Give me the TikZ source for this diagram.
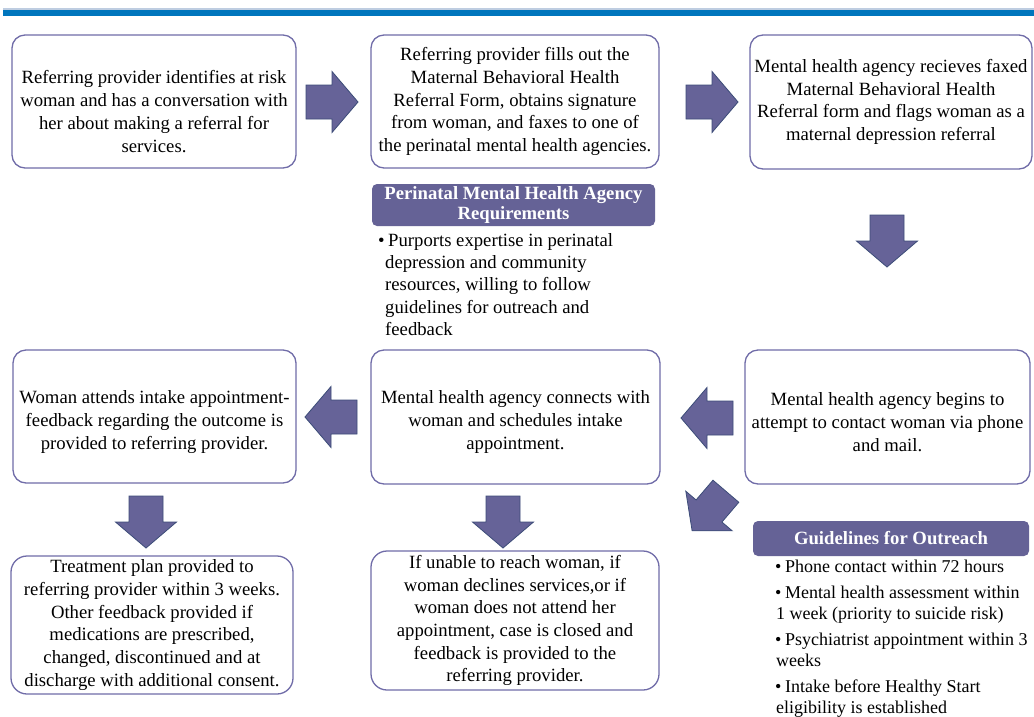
\documentclass[tikz,border=0pt]{standalone}
\usepackage{fontspec}
\setmainfont{Liberation Serif}
\definecolor{boxline}{RGB}{112,108,168}
\definecolor{arrfill}{RGB}{102,99,152}
\definecolor{arrline}{RGB}{60,76,120}
\definecolor{hdrfill}{RGB}{101,98,150}
\definecolor{topbar}{RGB}{0,118,189}
\definecolor{topline}{RGB}{190,205,225}
\tikzset{
  stepbox/.style={draw=boxline, line width=1.3pt, rounded corners=13pt, fill=white,
    align=center, inner sep=0pt, font=\fontsize{18.7}{22.7}\selectfont},
  boxtext/.style={align=center, inner sep=0pt, font=\fontsize{18.7}{22.7}\selectfont},
  header/.style={fill=hdrfill, rounded corners=5pt, text=white,
    font=\fontsize{18.7}{20.5}\selectfont\bfseries, align=center, inner sep=0pt},
  bullets/.style={align=left, inner sep=0pt, anchor=north west},
  blockarrow/.style={fill=arrfill, draw=arrline, line width=0.8pt, line join=miter},
  pics/barrow/.style={code={
    \draw[blockarrow] (-26,-17) -- (0,-17) -- (0,-30.5) -- (26,0) -- (0,30.5) -- (0,17) -- (-26,17) -- cycle;}}
}
\begin{document}
\begin{tikzpicture}[x=1pt,y=-1pt]
\useasboundingbox[fill=white] (0,0) rectangle (1034,716);
% top bar
\fill[topline] (3,8.3) rectangle (1034,9.5);
\fill[topbar] (3,9.5) rectangle (1034,16.3);

% row 1
\node[stepbox, minimum width=284pt, minimum height=133pt] (b1) at (154,101.5) {};
\node[boxtext] (t1) at (154,111.5) {Referring provider identifies at risk\\ woman and has a conversation with\\ her about making a referral for\\ services.};
\node[stepbox, minimum width=288pt, minimum height=133pt] (b2) at (515,101.5)
  {Referring provider fills out the\\ Maternal Behavioral Health\\ Referral Form, obtains signature\\ from woman, and faxes to one of\\ the perinatal mental health agencies.};
\node[stepbox, minimum width=282pt, minimum height=134pt] (b3) at (891,102)
  {Mental health agency recieves faxed\\ Maternal Behavioral Health\\ Referral form and flags woman as a\\ maternal depression referral};

% row 2
\node[stepbox, minimum width=283pt, minimum height=133pt] (b4) at (154.5,416.5) {};
\node[boxtext] (t4) at (154.5,422) {Woman attends intake appointment-\\ feedback regarding the outcome is\\ provided to referring provider.};
\node[stepbox, minimum width=289pt, minimum height=134pt] (b5) at (515.5,417) {};
\node[boxtext] (t5) at (515.5,422) {Mental health agency connects with\\ woman and schedules intake\\ appointment.};
\node[stepbox, minimum width=285pt, minimum height=134pt] (b6) at (887.5,417) {};
\node[boxtext] (t6) at (887.5,422) {Mental health agency begins to\\ attempt to contact woman via phone\\ and mail.};

% row 3
\node[stepbox, rounded corners=16pt, minimum width=282pt, minimum height=138pt] (b7) at (152,625)
  {Treatment plan provided to\\ referring provider within 3 weeks.\\ Other feedback provided if\\ medications are prescribed,\\ changed, discontinued and at\\ discharge with additional consent.};
\node[stepbox, rounded corners=16pt, minimum width=288pt, minimum height=139pt] (b8) at (515,620.5)
  {If unable to reach woman, if\\ woman declines services,or if\\ woman does not attend her\\ appointment, case is closed and\\ feedback is provided to the\\ referring provider.};

% headers
\node[header, minimum width=283pt, minimum height=42pt] (h1) at (513.5,205)
  {Perinatal Mental Health Agency\\ Requirements};
\node[header, minimum width=276pt, minimum height=35pt] (h2) at (891,538.5)
  {Guidelines for Outreach};

% bullet lists
\node[bullets, font=\fontsize{18.7}{22.3}\selectfont] (req) at (378,233)
  {\makebox[10pt][l]{\textbullet}Purports expertise in perinatal\\
   \hspace*{7pt}depression and community\\
   \hspace*{7pt}resources, willing to follow\\
   \hspace*{7pt}guidelines for outreach and\\
   \hspace*{7pt}feedback};
\node[bullets, font=\fontsize{18}{21}\selectfont] (gl) at (775,560)
  {\makebox[10pt][l]{\textbullet}Phone contact within 72 hours\\[5pt]
   \makebox[10pt][l]{\textbullet}Mental health assessment within\\
   \hspace*{1pt}1 week (priority to suicide risk)\\[5pt]
   \makebox[10pt][l]{\textbullet}Psychiatrist appointment within 3\\
   \hspace*{1pt}weeks\\[5pt]
   \makebox[10pt][l]{\textbullet}Intake before Healthy Start\\
   \hspace*{1pt}eligibility is established};

% block arrows
\pic (a1) at (332,102) {barrow};
\pic (a2) at (712,102) {barrow};
\pic[rotate=-90] (a3) at (887,241) {barrow};
\pic[rotate=180] (a4) at (707,418) {barrow};
\pic[rotate=180] (a5) at (331,417) {barrow};
\pic[rotate=-90] (a6) at (146,522) {barrow};
\pic[rotate=-90] (a7) at (503,522) {barrow};
\pic[rotate=229.5] (a8) at (709,511) {barrow};
\end{tikzpicture}
\end{document}
